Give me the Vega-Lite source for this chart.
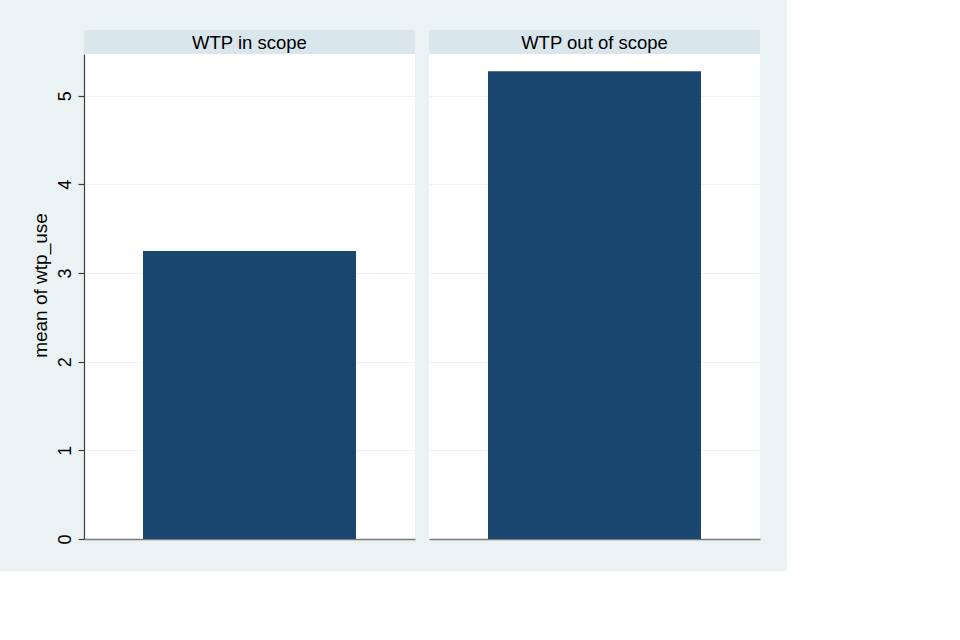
{
  "$schema": "https://vega.github.io/schema/vega-lite/v6.json",
  "background": "#EAF2F3",
  "padding": {"left": 31, "top": 30, "right": 27, "bottom": 26},
  "autosize": {"type": "pad"},
  "bounds": "flush",
  "columns": 2,
  "spacing": {"row": 0, "column": 14},
  "config": {
    "font": "Liberation Sans",
    "view": {"stroke": null},
    "text": {"font": "Liberation Sans"}
  },
  "data": {"values": [
    {"panel": "WTP in scope", "mean": 3.247},
    {"panel": "WTP out of scope", "mean": 5.276}
  ]},
  "concat": [
    {
      "width": 331, "height": 24,
      "view": {"fill": "#D9E6EB", "stroke": null},
      "transform": [{"filter": "datum.panel === 'WTP in scope'"}],
      "mark": {"type": "text", "fontSize": 18.5, "color": "#000000", "align": "center", "baseline": "middle", "dy": 1},
      "encoding": {"text": {"field": "panel", "type": "nominal"}}
    },
    {
      "width": 331, "height": 24,
      "view": {"fill": "#D9E6EB", "stroke": null},
      "transform": [{"filter": "datum.panel === 'WTP out of scope'"}],
      "mark": {"type": "text", "fontSize": 18.5, "color": "#000000", "align": "center", "baseline": "middle", "dy": 1},
      "encoding": {"text": {"field": "panel", "type": "nominal"}}
    },
    {
      "width": 331, "height": 485,
      "view": {"fill": "#FFFFFF", "stroke": null},
      "transform": [{"filter": "datum.panel === 'WTP in scope'"}],
      "mark": {"type": "bar", "color": "#1A476F", "width": {"band": 0.6435}},
      "encoding": {
        "x": {"field": "panel", "type": "nominal",
          "scale": {"paddingInner": 0, "paddingOuter": 0},
          "axis": {"labels": false, "ticks": false, "title": null, "domain": true, "domainColor": "#7a7a7a", "domainWidth": 1.5, "grid": false}},
        "y": {"field": "mean", "type": "quantitative",
          "scale": {"domain": [0, 5.47], "nice": false, "zero": true},
          "axis": {"values": [0, 1, 2, 3, 4, 5], "title": "mean of wtp_use",
            "grid": true, "gridColor": "#EAF2F3", "gridWidth": 1,
            "domain": true, "domainColor": "#3c3c3c", "domainWidth": 1.2,
            "ticks": true, "tickSize": 6, "tickColor": "#3c3c3c", "tickWidth": 1.2,
            "labelAngle": -90, "labelAlign": "center", "labelBaseline": "alphabetic",
            "labelPadding": 8, "labelFontSize": 18, "labelColor": "#000000", "labelFont": "Liberation Sans",
            "titleFontSize": 19, "titleFontWeight": "normal", "titleColor": "#000000", "titleFont": "Liberation Sans",
            "titlePadding": 6, "titleY": 231}}
      }
    },
    {
      "width": 331, "height": 485,
      "view": {"fill": "#FFFFFF", "stroke": null},
      "transform": [{"filter": "datum.panel === 'WTP out of scope'"}],
      "mark": {"type": "bar", "color": "#1A476F", "width": {"band": 0.6435}},
      "encoding": {
        "x": {"field": "panel", "type": "nominal",
          "scale": {"paddingInner": 0, "paddingOuter": 0},
          "axis": {"labels": false, "ticks": false, "title": null, "domain": true, "domainColor": "#7a7a7a", "domainWidth": 1.5, "grid": false}},
        "y": {"field": "mean", "type": "quantitative",
          "scale": {"domain": [0, 5.47], "nice": false, "zero": true},
          "axis": {"values": [0, 1, 2, 3, 4, 5], "title": null, "labels": false, "ticks": false, "domain": false,
            "grid": true, "gridColor": "#EAF2F3", "gridWidth": 1}}
      }
    }
  ]
}
